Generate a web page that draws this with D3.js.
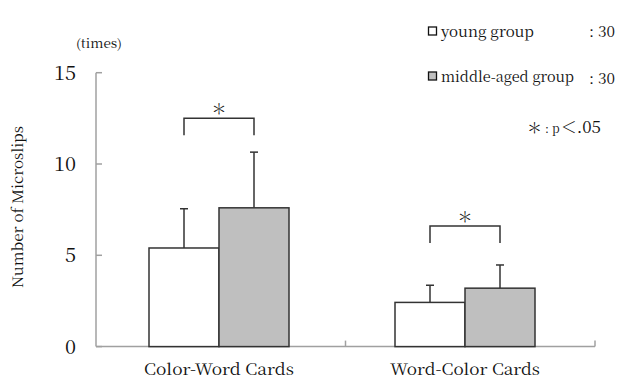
<!DOCTYPE html>
<html><head><meta charset="utf-8">
<script src="https://cdn.jsdelivr.net/npm/d3@7"></script>
<style>body{margin:0;background:#fff}svg{display:block}</style>
</head><body><svg id="c" width="617" height="379"></svg>
<script>
const categories = ["Color-Word Cards", "Word-Color Cards"];
const groups = ["young group", "middle-aged group"];
const groupN = [30, 30];
const means = { "young group": [5.4, 2.42], "middle-aged group": [7.6, 3.2] };
const sds = { "young group": [2.15, 0.94], "middle-aged group": [3.05, 1.27] };
const yTicks = [0, 5, 10, 15];
const sigTop = [12.5, 6.6];
const colors = { "young group": "#ffffff", "middle-aged group": "#bfbfbf" };

const SERIF = "'Noto Serif CJK JP', 'Liberation Serif', serif";
const svg = d3.select("#c");
const y = d3.scaleLinear().domain([0, 15]).range([346.6, 72.7]);
const xAxisBand = d3.scaleBand().domain(categories).range([96, 595]);
const xC = d3.scalePoint().domain(categories).range([219, 465]);
const xSub = d3.scaleBand().domain(groups).range([-70, 70]);
const axisCol = "#a0a0a0", edge = "#333";

function txt(x, yy, s, size, len, anchor) {
  const t = svg.append("text").attr("x", x).attr("y", yy)
    .attr("font-family", SERIF).attr("font-size", size).attr("fill", "#111")
    .attr("text-anchor", anchor || "start").text(s);
  if (len) t.attr("textLength", len).attr("lengthAdjust", "spacingAndGlyphs");
  return t;
}

// y axis
svg.append("line").attr("x1", 96).attr("x2", 96).attr("y1", y(0)).attr("y2", y(15)).attr("stroke", axisCol).attr("stroke-width", 1.5);
yTicks.forEach(t => {
  svg.append("line").attr("x1", 96).attr("x2", 102).attr("y1", y(t)).attr("y2", y(t)).attr("stroke", axisCol).attr("stroke-width", 1.5);
  txt(76, y(t) + 7, String(t), 20, String(t).length * 11, "end");
});
// x axis
svg.append("line").attr("x1", 96).attr("x2", 595).attr("y1", y(0)).attr("y2", y(0)).attr("stroke", axisCol).attr("stroke-width", 1.5);
categories.forEach(c => {
  const xe = xAxisBand(c) + xAxisBand.bandwidth();
  svg.append("line").attr("x1", xe).attr("x2", xe).attr("y1", y(0)).attr("y2", y(0) - 6).attr("stroke", axisCol).attr("stroke-width", 1.5);
  txt(xC(c), 375, c, 15.5, 150, "middle");
});

// bars
categories.forEach((c, i) => {
  groups.forEach(g => {
    const x0 = xC(c) + xSub(g), w = xSub.bandwidth();
    const m = means[g][i], s = sds[g][i];
    const cx = x0 + w / 2;
    svg.append("line").attr("x1", cx).attr("x2", cx).attr("y1", y(m)).attr("y2", y(m + s)).attr("stroke", edge).attr("stroke-width", 1.5);
    svg.append("line").attr("x1", cx - 4).attr("x2", cx + 4).attr("y1", y(m + s)).attr("y2", y(m + s)).attr("stroke", edge).attr("stroke-width", 1.5);
    svg.append("rect").attr("x", x0).attr("y", y(m)).attr("width", w).attr("height", y(0) - y(m))
      .attr("fill", colors[g]).attr("stroke", edge).attr("stroke-width", 1.5);
  });
  // significance bracket
  const a = xC(c) + xSub(groups[0]) + xSub.bandwidth() / 2;
  const b = xC(c) + xSub(groups[1]) + xSub.bandwidth() / 2;
  const yt = y(sigTop[i]);
  svg.append("path").attr("d", `M${a},${yt + 17}V${yt}H${b}V${yt + 17}`).attr("fill", "none").attr("stroke", edge).attr("stroke-width", 1.5);
  svg.append("text").attr("x", (a + b) / 2).attr("y", yt - 4).attr("text-anchor", "middle")
    .attr("font-family", SERIF).attr("font-size", 15).attr("fill", "#222").text("＊");
});

// labels
txt(76, 48, "(times)", 12.5, 46);
svg.append("text").attr("transform", "translate(23,207) rotate(-90)").attr("text-anchor", "middle")
  .attr("font-family", SERIF).attr("font-size", 14.5).attr("fill", "#111")
  .attr("textLength", 162).attr("lengthAdjust", "spacingAndGlyphs").text("Number of Microslips");

// legend
const legY = [37, 82];
const legLen = [93, 133];
groups.forEach((g, i) => {
  svg.append("rect").attr("x", 428.5).attr("y", legY[i] - 10).attr("width", 8).attr("height", 8)
    .attr("fill", colors[g]).attr("stroke", "#111").attr("stroke-width", 1.3);
  txt(441, legY[i], g, 14.5, legLen[i]);
  txt(615, legY[i] + (i === 1 ? 2 : 0), ": " + groupN[i], 14.5, 26, "end");
});
const p = svg.append("text").attr("x", 527).attr("y", 133).attr("fill", "#111").attr("font-family", SERIF);
p.append("tspan").attr("font-size", 15).text("＊");
p.append("tspan").attr("font-size", 12).attr("dx", 3).text(": p");
p.append("tspan").attr("font-size", 16).attr("dx", 1).text("＜");
p.append("tspan").attr("font-size", 17).text(".05");
</script></body></html>
